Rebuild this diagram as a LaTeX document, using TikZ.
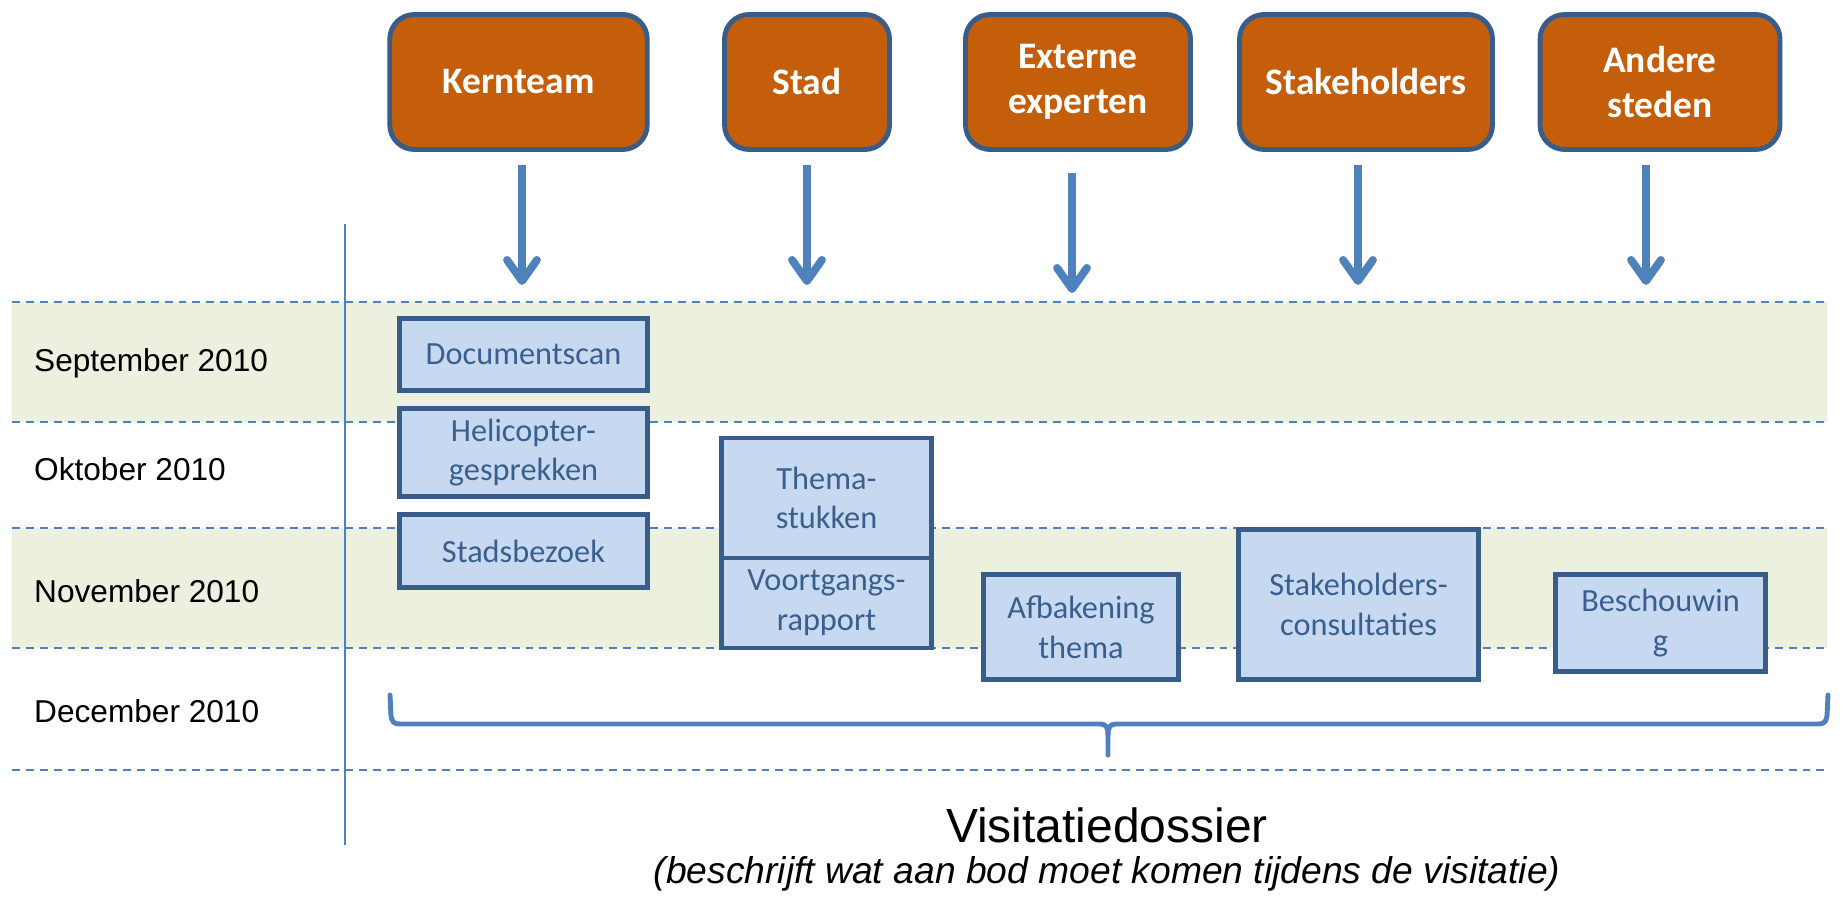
\documentclass[tikz,border=0pt]{standalone}
\usepackage{fontspec}
\setmainfont{Liberation Sans}
\newfontfamily\calibri{Carlito}
\usepackage{tikz}
\usetikzlibrary{arrows.meta,positioning}

\definecolor{kleurrand}{RGB}{56,93,138}
\definecolor{kleuroranje}{RGB}{197,94,10}
\definecolor{kleurvak}{RGB}{198,217,241}
\definecolor{kleurtekst}{RGB}{58,95,142}
\definecolor{kleurlijn}{RGB}{79,129,189}
\definecolor{kleurband}{RGB}{235,241,222}

\begin{document}
\begin{tikzpicture}
    [x=0.02cm, y=-0.02cm,
    % STYLES
    % The actor style is used for the orange boxes at the top
    actor/.style={rectangle, rounded corners=14pt, draw=kleurrand, line width=2.8pt, fill=kleuroranje, text=white, align=center, inner sep=0pt, minimum height=2.7cm, font=\calibri\bfseries\fontsize{21.3}{25.5}\selectfont},
    % The task style is used for the activities on the timeline
    task/.style={rectangle, draw=kleurrand, line width=2.5pt, fill=kleurvak, text=kleurtekst, align=center, inner sep=0pt, outer sep=0pt, font=\calibri\fontsize{18.4}{22.5}\selectfont},
    % The month style is used for the labels on the left
    month/.style={anchor=base west, font=\fontsize{18}{22}\selectfont},
    raster/.style={kleurlijn, line width=1.1pt, dash pattern=on 4.5pt off 3.4pt},
    flow/.style={kleurlijn, line width=4.5pt, -{Straight Barb[round, length=12pt, width=17pt]}, shorten <=0.26cm},
    brace/.style={kleurlijn, line width=2.8pt, line cap=round, line join=round}]

    \useasboundingbox (0,0) rectangle (1843,898);

    % Draw month bands
    \fill[kleurband] (12,302) rectangle (1827,422);
    \fill[kleurband] (12,528) rectangle (1827,648);
    \foreach \y in {302,422,528,648,770}
        \draw[raster] (12,\y) -- (1827,\y);
    \draw[kleurlijn, line width=0.9pt] (345,224) -- (345,845);

    \node[month] (sep) at (28,372) {September 2010};
    \node[month] (okt) at (28,480) {Oktober 2010};
    \node[month] (nov) at (28,602) {November 2010};
    \node[month] (dec) at (28,722) {December 2010};

    % Draw actors
    \node[actor, minimum width=5.15cm] (kern) at (518.5,82) {Kernteam};
    \node[actor, minimum width=3.3cm] (stad) at (807,82) {Stad};
    \node[actor, minimum width=4.5cm] (extern) at (1078,82) {Externe\\experten};
    \node[actor, minimum width=5.06cm] (stake) at (1366,82) {Stakeholders};
    \node[actor, minimum width=4.8cm] (ander) at (1660,82) {Andere\\steden};

    \coordinate (kern-to) at (522,285);
    \coordinate (stad-to) at (807,285);
    \coordinate (extern-to) at (1072,293);
    \coordinate (stake-to) at (1358,285);
    \coordinate (ander-to) at (1646,285);

    \path[flow]
    (kern.south -| kern-to) edge (kern-to)
    (stad.south -| stad-to) edge (stad-to)
    (extern.south -| extern-to) edge[shorten <=0.42cm] (extern-to)
    (stake.south -| stake-to) edge (stake-to)
    (ander.south -| ander-to) edge (ander-to);

    % Draw tasks
    \node[task, minimum width=4.96cm, minimum height=1.44cm] (doc) at (523.5,354.5) {Documentscan};
    \node[task, minimum width=4.96cm, minimum height=1.76cm] (heli) at (523.5,452.5) {Helicopter-\\gesprekken};
    \node[task, minimum width=4.96cm, minimum height=1.46cm] (bezoek) at (523.5,551) {Stadsbezoek};
    \node[task, minimum width=4.2cm, minimum height=2.4cm] (thema) at (826.5,498) {Thema-\\stukken};
    \node[task, minimum width=4.2cm, minimum height=1.8cm, below=0pt of thema] (voortgang) {Voortgangs-\\rapport};
    \node[task, minimum width=3.9cm, minimum height=2.1cm] (afbak) at (1081,627) {Afbakening\\thema};
    \node[task, minimum width=4.8cm, minimum height=3cm] (consult) at (1358.5,604.5) {Stakeholders-\\consultaties};
    \node[task, minimum width=4.2cm, minimum height=1.94cm] (beschouw) at (1660.5,623) {Beschouwin\\g};

    % Draw brace and result
    \draw[brace] (390,695) -- (391,716) .. controls (392,722) and (394,724) .. (400,724) -- (1100,724)
        .. controls (1106,724) and (1108,727) .. (1108,735) -- (1108,755);
    \draw[brace] (1108,735) .. controls (1108,727) and (1110,724) .. (1116,724) -- (1818,724)
        .. controls (1824,724) and (1826,722) .. (1827,716) -- (1828,695);

    \node[anchor=base, font=\fontsize{27.3}{32}\selectfont] (dossier) at (1107,842) {Visitatiedossier};
    \node[anchor=base, font=\itshape\fontsize{21.2}{25}\selectfont] (uitleg) at (1107,883) {(beschrijft wat aan bod moet komen tijdens de visitatie)};
\end{tikzpicture}
\end{document}
